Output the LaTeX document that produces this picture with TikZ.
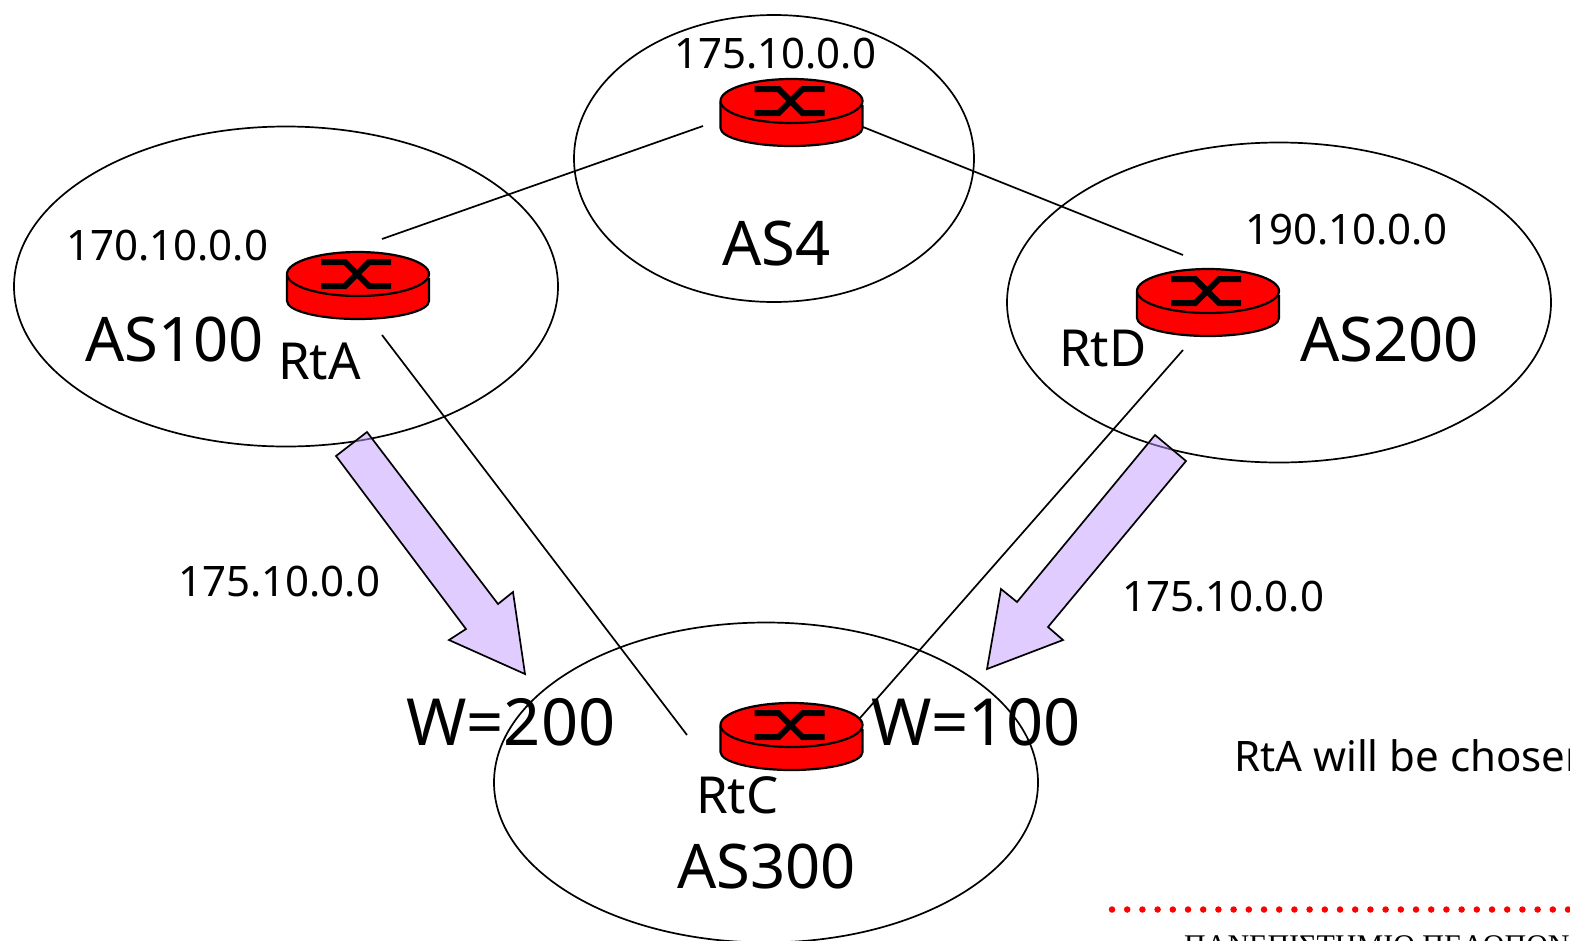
\documentclass[tikz,border=0pt]{standalone}
\usepackage{fontspec}
\setmainfont{Noto Sans}
\newfontfamily\serifgr{Liberation Serif}
\usetikzlibrary{shapes.geometric}
\definecolor{routerred}{RGB}{255,0,0}
\definecolor{lilac}{RGB}{194,153,255}
\tikzset{
  x=1pt,y=1pt,
  asell/.style={shape=ellipse,draw=black,line width=1.7pt,fill=none,inner sep=0pt,outer sep=0pt},
  link/.style={draw=black,line width=1.7pt},
  bigarrow/.style={draw=black,line width=1.7pt,line join=miter,fill=lilac,fill opacity=0.5},
  lbl/.style={font=\fontsize{42}{46}\selectfont,inner sep=0pt,anchor=base west},
  rname/.style={font=\fontsize{51}{55}\selectfont,inner sep=0pt,anchor=base west},
  big/.style={font=\fontsize{61.5}{66}\selectfont,inner sep=0pt,anchor=base west},
  wlabel/.style={font=\fontsize{65}{70}\selectfont,inner sep=0pt,anchor=base west},
  router/.pic={
    \path[fill=routerred,draw=black,line width=2.2pt] (-71,-2) -- (-71,-27) arc[start angle=180,end angle=360,x radius=71,y radius=18] -- (71,-5) -- cycle;
    \path[fill=routerred,draw=black,line width=2.2pt] (0,0) ellipse[x radius=71,y radius=22];
    \draw[black,line width=6pt] (-37,12) -- (-13,12) -- (11,-12) -- (33,-12);
    \draw[black,line width=6pt] (-37,-12) -- (-13,-12) -- (11,12) -- (33,12);
  }
}
\begin{document}
\begin{tikzpicture}
\useasboundingbox (0,-940) rectangle (1570,0);
\clip (0,-940) rectangle (1570,0);
\node[asell,minimum width=544pt,minimum height=320pt] (as100) at (286,-286.5) {};
\node[asell,minimum width=400pt,minimum height=287pt] (as4) at (774,-158.5) {};
\node[asell,minimum width=544pt,minimum height=320pt] (as200) at (1279,-302.5) {};
\node[asell,minimum width=544pt,minimum height=320pt] (as300) at (766,-782.5) {};
\coordinate (l1a) at (703,-126);
\coordinate (l1b) at (382,-239);
\coordinate (l2a) at (863,-127);
\coordinate (l2b) at (1183,-255);
\coordinate (l3a) at (382,-335);
\coordinate (l3b) at (687,-735);
\coordinate (l4a) at (1183,-350);
\coordinate (l4b) at (860,-718);
\draw[link] (l1a) -- (l1b);
\draw[link] (l2a) -- (l2b);
\draw[link] (l3a) -- (l3b);
\draw[link] (l4a) -- (l4b);
\path[bigarrow] (367,-432) -- (336,-456) -- (466,-629) -- (449,-640) -- (525,-674) -- (513,-592) -- (498,-604) -- cycle;
\path[bigarrow] (1155,-435) -- (1186,-461) -- (1048,-627) -- (1063,-640) -- (987,-669) -- (1001,-589) -- (1017,-602) -- cycle;
\pic at (791.5,-101) {router};
\pic at (358,-274) {router};
\pic at (1208,-291) {router};
\pic at (791.5,-725) {router};
\node[lbl] (t1) at (674,-68) {175.10.0.0};
\node[lbl] (t2) at (66,-260) {170.10.0.0};
\node[lbl] (t3) at (1245,-244) {190.10.0.0};
\node[lbl] (t4) at (178,-596) {175.10.0.0};
\node[lbl] (t5) at (1122,-611) {175.10.0.0};
\node[big] (n1) at (722,-265) {AS4};
\node[big] (n2) at (85,-361) {AS100};
\node[big] (n3) at (1300,-361) {AS200};
\node[big] (n4) at (677,-888) {AS300};
\node[wlabel] (w1) at (406,-745) {W=200};
\node[wlabel] (w2) at (871,-745) {W=100};
\node[rname] (r1) at (278,-379) {RtA};
\node[rname] (r2) at (1059,-366) {RtD};
\node[rname] (r3) at (696,-813) {RtC};
\node[lbl] (c) at (1234,-771) {RtA will be chosen};
\coordinate (d1) at (1112,-909.5);
\coordinate (d2) at (1580,-909.5);
\draw[red,line width=6.5pt,line cap=round,dash pattern=on 0pt off 15.2pt] (d1) -- (d2);
\node[inner sep=0pt,anchor=base west,font=\serifgr\fontsize{30}{33}\selectfont] (u) at (1184,-955) {ΠΑΝΕΠΙΣΤΗΜΙΟ ΠΕΛΟΠΟΝΝΗΣΟΥ};
\end{tikzpicture}
\end{document}
